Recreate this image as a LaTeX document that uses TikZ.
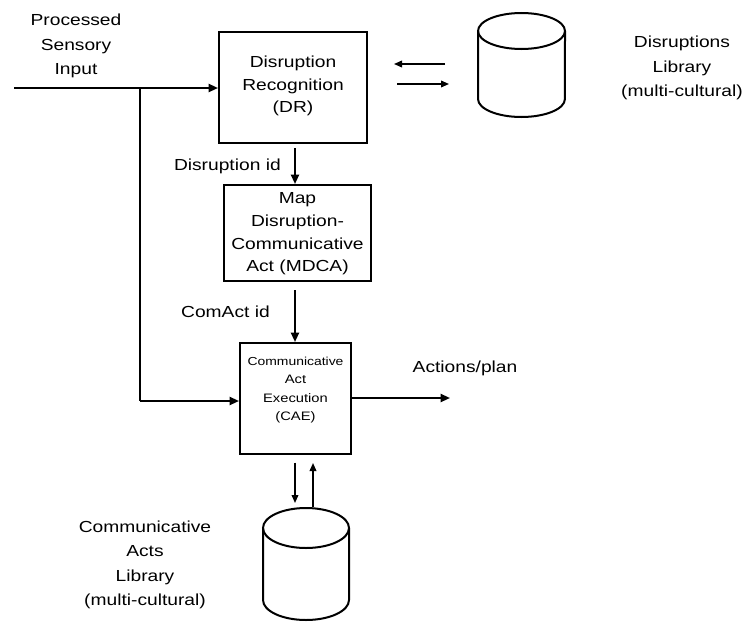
\documentclass[tikz,border=0pt]{standalone}
\usepackage{fontspec}
\setmainfont{Liberation Sans}[FakeStretch=1.2]
\usetikzlibrary{arrows.meta}
\begin{document}
\begin{tikzpicture}[x=0.75pt,y=-0.75pt,
  box/.style={draw,line width=1.5pt,inner sep=0pt},
  txt/.style={align=center,font=\fontsize{12pt}{17pt}\selectfont,inner sep=0pt},
  lbl/.style={align=center,font=\fontsize{12pt}{18.4pt}\selectfont,inner sep=0pt},
  small/.style={align=center,font=\fontsize{9.2pt}{13.7pt}\selectfont,inner sep=0pt},
  conn/.style={line width=1.5pt,-{Triangle[length=7pt,width=6pt]}},
  thin/.style={line width=1.1pt,-{Triangle[length=6pt,width=5pt]}},
  cyl/.style={line width=1.5pt}]
\useasboundingbox (0,0) rectangle (752,621);
% boxes
\node[box,minimum width=111pt,minimum height=83.25pt] (dr) at (293,87.5) {};
\node[txt] (drt) at (293,86) {Disruption\\Recognition\\(DR)};
\node[box,minimum width=110.25pt,minimum height=72pt] (mdca) at (297.5,233) {};
\node[txt] (mdcat) at (297.5,234) {Map\\Disruption-\\Communicative\\Act (MDCA)};
\node[box,minimum width=83.25pt,minimum height=83.25pt] (cae) at (295.5,398.5) {};
\node[small] (caet) at (295.5,390) {{\fontsize{8.7pt}{13.7pt}\selectfont Communicative}\\Act\\Execution\\(CAE)};
% input
\coordinate (in) at (14,88);
\coordinate (br) at (140,88);
\node[lbl] (inlbl) at (76,46) {Processed\\Sensory\\Input};
\draw[conn] (in) -- (dr.west|-in);
\draw[line width=1.5pt] (br) -- (140,401) coordinate (brc);
\draw[conn] (brc) -- (cae.west|-brc);
% DR -> MDCA
\draw[conn] (295,148) coordinate (a1) -- (mdca.north-|a1);
\node[lbl,anchor=east] (did) at (281,166) {Disruption id};
% MDCA -> CAE
\draw[conn] (295,290) coordinate (a2) -- (cae.north-|a2);
\node[lbl,anchor=east] (cid) at (270,312) {ComAct id};
% output
\coordinate (out) at (450,398);
\draw[conn] (cae.east|-out) -- (out);
\node[lbl] (olbl) at (465,368) {Actions/plan};
% upper cylinder
\draw[cyl] (478,31) -- (478,99) arc[start angle=180,end angle=360,x radius=32.6pt,y radius=13.5pt] -- (565,31);
\draw[cyl] (521.5,31) ellipse[x radius=32.6pt,y radius=13.5pt];
\coordinate (dl) at (521.5,65);
\node[lbl] (dllbl) at (682,68) {Disruptions\\Library\\(multi-cultural)};
\coordinate (p1) at (445,64);
\coordinate (p2) at (394,64);
\coordinate (p3) at (397,84);
\coordinate (p4) at (449,84);
\draw[thin] (p1) -- (p2);
\draw[thin] (p3) -- (p4);
% lower cylinder
\draw[cyl] (263,528) -- (263,600) arc[start angle=180,end angle=360,x radius=32.25pt,y radius=15pt] -- (349,528);
\draw[cyl] (306,528) ellipse[x radius=32.25pt,y radius=15pt];
\coordinate (q1) at (313,507);
\coordinate (q2) at (295,503);
\draw[thin] (cae.south-|q2) ++(0,7.5) coordinate (q2s) -- (q2);
\draw[thin] (q1) -- ([yshift=-6pt]cae.south-|q1);
\node[lbl] (cllbl) at (145,565) {Communicative\\Acts\\Library\\(multi-cultural)};
\end{tikzpicture}
\end{document}
